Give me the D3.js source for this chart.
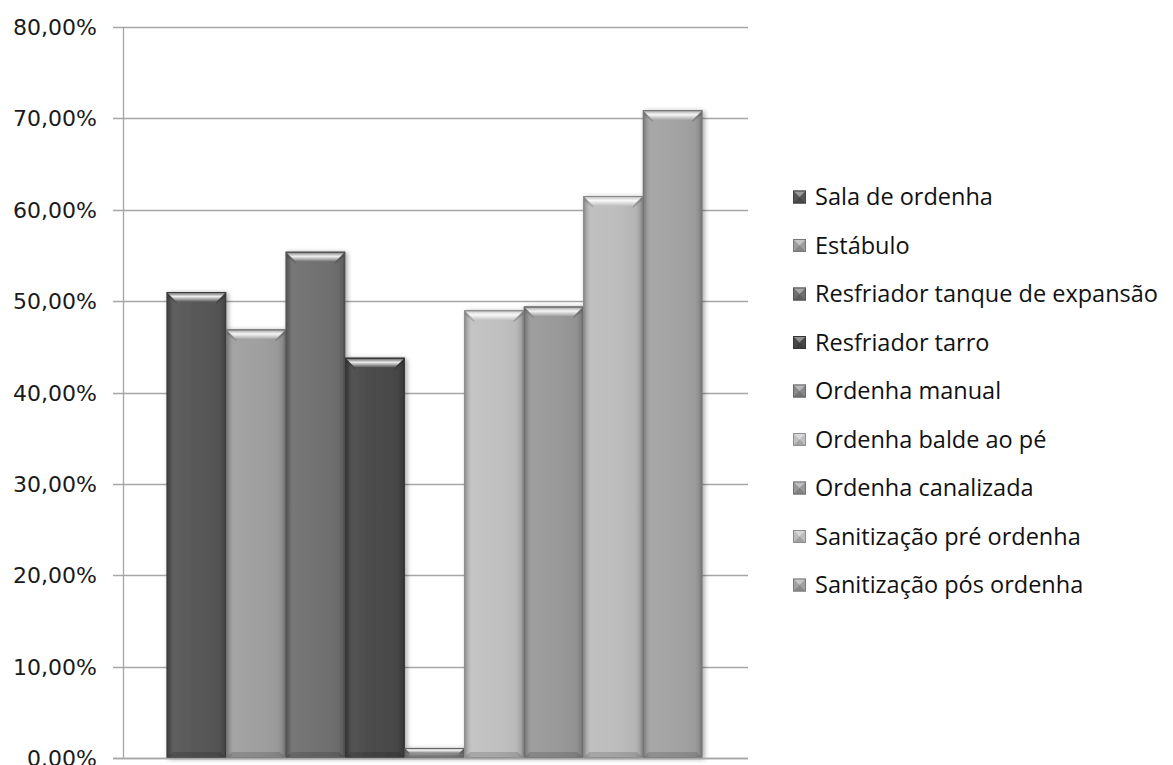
<!DOCTYPE html>
<html>
<head>
<meta charset="utf-8">
<script src="https://cdn.jsdelivr.net/npm/d3@7/dist/d3.min.js"></script>
<style>
  html, body { margin: 0; padding: 0; background: #fff; }
  svg { display: block; }
</style>
</head>
<body>
<svg id="chart" width="1173" height="765"></svg>
<script>
// ---- data ----
const seriesNames = [
  "Sala de ordenha",
  "Estábulo",
  "Resfriador tanque de expansão",
  "Resfriador tarro",
  "Ordenha manual",
  "Ordenha balde ao pé",
  "Ordenha canalizada",
  "Sanitização pré ordenha",
  "Sanitização pós ordenha"
];
const seriesValues = [0.510, 0.469, 0.554, 0.438, 0.011, 0.490, 0.494, 0.615, 0.709];
const seriesColors = ["#555555", "#9e9e9e", "#6f6f6f", "#484848", "#8a8a8a", "#c0c0c0", "#989898", "#bcbcbc", "#a2a2a2"];
const yTicks = [0, 0.1, 0.2, 0.3, 0.4, 0.5, 0.6, 0.7, 0.8];
const yTickLabels = ["0.00%", "10,00%", "20,00%", "30,00%", "40,00%", "50,00%", "60,00%", "70,00%", "80,00%"];

// ---- layout ----
const svg = d3.select("#chart");
const plot = { left: 123, right: 748, top: 27, bottom: 758 };

const y = d3.scaleLinear().domain([0, 0.8]).range([plot.bottom, plot.top]);
const x = d3.scaleBand().domain(seriesNames).range([plot.left - 1, plot.right - 1]).paddingInner(0).paddingOuter(0.75);

const defs = svg.append("defs");
// side shading gradient
const sideGrad = defs.append("linearGradient").attr("id", "sideShade").attr("x1", "0").attr("x2", "1").attr("y1", "0").attr("y2", "0");
sideGrad.append("stop").attr("offset", "0").attr("stop-color", "#000").attr("stop-opacity", 0.28);
sideGrad.append("stop").attr("offset", "0.05").attr("stop-color", "#000").attr("stop-opacity", 0.12);
sideGrad.append("stop").attr("offset", "0.12").attr("stop-color", "#fff").attr("stop-opacity", 0.06);
sideGrad.append("stop").attr("offset", "0.5").attr("stop-color", "#fff").attr("stop-opacity", 0.02);
sideGrad.append("stop").attr("offset", "0.88").attr("stop-color", "#000").attr("stop-opacity", 0.04);
sideGrad.append("stop").attr("offset", "0.95").attr("stop-color", "#000").attr("stop-opacity", 0.14);
sideGrad.append("stop").attr("offset", "1").attr("stop-color", "#000").attr("stop-opacity", 0.32);
// top bevel gradient
const topGrad = defs.append("linearGradient").attr("id", "topShade").attr("x1", "0").attr("x2", "0").attr("y1", "0").attr("y2", "1");
topGrad.append("stop").attr("offset", "0").attr("stop-color", "#000").attr("stop-opacity", 0.3);
topGrad.append("stop").attr("offset", "0.15").attr("stop-color", "#fff").attr("stop-opacity", 0.3);
topGrad.append("stop").attr("offset", "0.45").attr("stop-color", "#fff").attr("stop-opacity", 0.9);
topGrad.append("stop").attr("offset", "0.7").attr("stop-color", "#fff").attr("stop-opacity", 0.5);
topGrad.append("stop").attr("offset", "1").attr("stop-color", "#fff").attr("stop-opacity", 0.0);
// shadow filter
const shadow = defs.append("filter").attr("id", "shadow").attr("x", "-20%").attr("y", "-5%").attr("width", "140%").attr("height", "110%");
shadow.append("feGaussianBlur").attr("in", "SourceAlpha").attr("stdDeviation", 2.5).attr("result", "b");
shadow.append("feOffset").attr("in", "b").attr("dx", 2).attr("dy", 1).attr("result", "o");
shadow.append("feComponentTransfer").attr("in", "o").attr("result", "s")
  .append("feFuncA").attr("type", "linear").attr("slope", 0.35);
const merge = shadow.append("feMerge");
merge.append("feMergeNode").attr("in", "s");
merge.append("feMergeNode").attr("in", "SourceGraphic");

// ---- grid & axes ----
const grid = svg.append("g");
grid.selectAll("line.grid").data(yTicks).join("line")
  .attr("x1", plot.left - 10).attr("x2", plot.right)
  .attr("y1", d => Math.round(y(d)) + 0.5).attr("y2", d => Math.round(y(d)) + 0.5)
  .attr("stroke", "#a6a6a6").attr("stroke-width", 1.3);
grid.append("line")
  .attr("x1", plot.left + 0.5).attr("x2", plot.left + 0.5)
  .attr("y1", plot.top).attr("y2", plot.bottom)
  .attr("stroke", "#a6a6a6").attr("stroke-width", 1.3);

svg.append("g").selectAll("text").data(yTicks).join("text")
  .attr("x", 97).attr("y", d => y(d) + 8)
  .attr("text-anchor", "end")
  .attr("font-family", "DejaVu Sans")
  .attr("font-size", 22)
  .attr("fill", "#1a1a1a")
  .text((d, i) => yTickLabels[i]);

// ---- bars ----
const bars = svg.append("g").attr("filter", "url(#shadow)");
seriesNames.forEach((name, i) => {
  const x0 = x(name), x1 = x0 + x.bandwidth();
  const y0 = y(seriesValues[i]), y1 = y(0);
  const h = y1 - y0;
  const b = Math.min(10, h / 2);
  const c = d3.color(seriesColors[i]);
  const g = bars.append("g");
  g.append("rect").attr("x", x0).attr("y", y0).attr("width", x1 - x0).attr("height", h).attr("fill", c.formatHex());
  g.append("rect").attr("x", x0).attr("y", y0).attr("width", x1 - x0).attr("height", h).attr("fill", "url(#sideShade)");
  // top facet
  const topPath = `M${x0},${y0}L${x1},${y0}L${x1 - b},${y0 + b}L${x0 + b},${y0 + b}Z`;
  g.append("path").attr("d", topPath).attr("fill", c.formatHex());
  g.append("path").attr("d", topPath).attr("fill", "url(#topShade)");
  // side facets of the top corners (slightly darker diagonals)
  g.append("path")
    .attr("d", `M${x0},${y0}L${x0 + b},${y0 + b}L${x0 + b},${y0 + b + 2}L${x0},${y0 + 4}Z`)
    .attr("fill", "#000").attr("opacity", 0.12);
  g.append("path")
    .attr("d", `M${x1},${y0}L${x1 - b},${y0 + b}L${x1 - b},${y0 + b + 2}L${x1},${y0 + 4}Z`)
    .attr("fill", "#000").attr("opacity", 0.15);
  // bottom facet
  const bb = b * 0.6;
  g.append("path")
    .attr("d", `M${x0},${y1}L${x1},${y1}L${x1 - bb},${y1 - bb}L${x0 + bb},${y1 - bb}Z`)
    .attr("fill", "#000").attr("opacity", 0.14);
  // outline
  g.append("rect").attr("x", x0 + 0.5).attr("y", y0 + 0.5).attr("width", x1 - x0 - 1).attr("height", Math.max(0, h - 1))
    .attr("fill", "none").attr("stroke", c.darker(0.9).formatHex()).attr("stroke-width", 1);
});

// baseline
svg.append("line")
  .attr("x1", plot.left - 10).attr("x2", plot.right)
  .attr("y1", plot.bottom + 0.5).attr("y2", plot.bottom + 0.5)
  .attr("stroke", "#a6a6a6").attr("stroke-width", 1.3);

// ---- legend ----
const legend = svg.append("g");
const legY = d3.scalePoint().domain(seriesNames).range([197, 585]);
seriesNames.forEach((name, i) => {
  const cy = legY(name);
  const c = d3.color(seriesColors[i]);
  const sx = 793, sy = cy - 6.5, s = 13;
  legend.append("rect").attr("x", sx).attr("y", sy).attr("width", s).attr("height", s).attr("fill", c.formatHex());
  legend.append("path")
    .attr("d", `M${sx},${sy}L${sx + s},${sy}L${sx + s / 2},${sy + s / 2}Z`)
    .attr("fill", "#fff").attr("opacity", 0.4);
  legend.append("path")
    .attr("d", `M${sx},${sy + s}L${sx + s},${sy + s}L${sx + s / 2},${sy + s / 2}Z`)
    .attr("fill", "#000").attr("opacity", 0.15);
  legend.append("rect").attr("x", sx + 0.5).attr("y", sy + 0.5).attr("width", s - 1).attr("height", s - 1)
    .attr("fill", "none").attr("stroke", c.darker(0.8).formatHex());
  legend.append("text")
    .attr("x", 815).attr("y", cy + 8)
    .attr("font-family", "Open Sans")
    .attr("font-size", 23.5)
    .attr("fill", "#111")
    .text(name);
});
</script>
</body>
</html>
